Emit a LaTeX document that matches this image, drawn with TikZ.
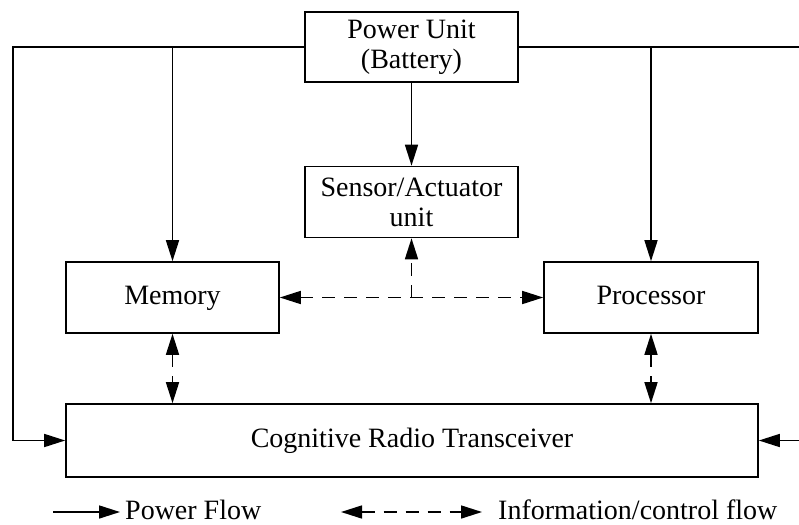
\documentclass[tikz,border=0pt]{standalone}
\usepackage{fontspec}
\setmainfont{Liberation Serif}
\usetikzlibrary{arrows.meta}
\begin{document}
\begin{tikzpicture}[x=1pt,y=-1pt,
  font=\fontsize{28}{30}\selectfont,
  block/.style={draw,line width=1.6pt,rectangle,align=center,inner sep=0pt},
  oneline/.style={text height=19pt,text depth=6pt},
  pw/.style={line width=1.6pt,-{Triangle[length=21pt,width=13pt]}},
  inf/.style={line width=1.6pt,dash pattern=on 13pt off 9pt,
    {Triangle[length=21pt,width=13pt]}-{Triangle[length=21pt,width=13pt]}},
  infone/.style={line width=1.6pt,dash pattern=on 13pt off 9pt,
    -{Triangle[length=21pt,width=13pt]}}]
\useasboundingbox (0,0) rectangle (799,524);

% building blocks
\node[block,minimum width=213pt,minimum height=70pt] (pu) at (411.5,47) {Power Unit\\(Battery)};
\node[block,minimum width=213pt,minimum height=71pt] (sa) at (411.5,202) {Sensor/Actuator\\unit};
\node[block,oneline,minimum width=213pt,minimum height=71pt] (mem) at (172.5,297.5) {Memory};
\node[block,oneline,minimum width=214pt,minimum height=71pt] (proc) at (651,297.5) {Processor};
\node[block,oneline,minimum width=692pt,minimum height=73pt] (crt) at (412,440.5) {Cognitive Radio Transceiver};

% free ends of the supply lines
\coordinate (lcorner) at (13,47);
\coordinate (redge) at (799,47);
\coordinate (rin) at (799,440.5);

% power distribution
\draw[pw] (pu.west) -- (lcorner) |- (crt.west);
\draw[pw] (pu.west -| mem.north) -- (mem.north);
\draw[line width=1.6pt] (pu.east) -- (redge);
\draw[pw] (pu.east -| proc.north) -- (proc.north);
\draw[pw] (pu.south) -- (sa.north);
\draw[pw] (rin) -- (crt.east);

% information / control exchange
\draw[inf] (mem.east) -- (proc.west);
\draw[infone] (sa.south |- mem.east) -- (sa.south);
\draw[inf] (mem.south) -- (crt.north -| mem.south);
\draw[inf] (proc.south) -- (crt.north -| proc.south);

% legend
\coordinate (lga) at (53,512);
\coordinate (lgb) at (120,512);
\coordinate (lgc) at (341,512);
\coordinate (lgd) at (482,512);
\draw[pw] (lga) -- (lgb);
\node[anchor=base west,inner sep=0pt] (lgpw) at (125,519) {Power Flow};
\draw[inf] (lgc) -- (lgd);
\node[anchor=base west,inner sep=0pt] (lginf) at (498,519) {Information/control flow};
\end{tikzpicture}
\end{document}
